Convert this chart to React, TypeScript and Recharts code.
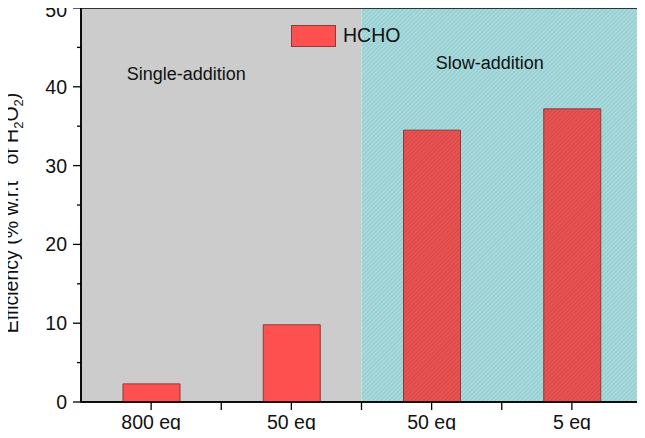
import { BarChart, Bar, XAxis, YAxis, ReferenceArea, Legend, Cell, Label } from "recharts";

const categories = ["800 eq", "50 eq", "50 eq", "5 eq"];
const hchoValues = [2.3, 9.8, 34.5, 37.2];
const hatched = [false, false, true, true];
const yTicks = [0, 5, 10, 15, 20, 25, 30, 35, 40, 45, 50];
const xTicks = [0.5, 1, 1.5, 2, 2.5, 3, 3.5];

const data = categories.map((name, i) => ({
  pos: i + 0.5,
  name,
  hcho: hchoValues[i],
}));

const FONT = "'Liberation Sans', Arial, sans-serif";

const labelFor = (v: number) => {
  const i = v - 0.5;
  return Number.isInteger(i) ? categories[i] : "";
};

// major ticks every 10 with labels, minor ones every 5
const YTick = (props: any) => {
  const { x, y, payload } = props;
  const major = payload.value % 10 === 0;
  // top label sits at the very edge, nudge it down a bit so it is not cut
  const dy = payload.value === 50 ? 9 : 7;
  return (
    <g>
      <line x1={x + 11} x2={x + 11 - (major ? 8 : 4)} y1={y} y2={y} stroke="#000" strokeWidth={1.3} />
      {major && (
        <text x={x - 3} y={y} dy={dy} textAnchor="end" fontSize={19.5} fontFamily={FONT} fill="#111">
          {payload.value}
        </text>
      )}
    </g>
  );
};

const YLabel = () => (
  <text
    x={18}
    y={213}
    transform="rotate(-90, 18, 213)"
    textAnchor="middle"
    fontSize={19.5}
    fontFamily={FONT}
    fill="#111"
    style={{ whiteSpace: "pre" }}
  >
    {"Efficiency (% w.r.t   of H"}
    <tspan fontSize={13} dy={5}>2</tspan>
    <tspan dy={-5}>O</tspan>
    <tspan fontSize={13} dy={5}>2</tspan>
    <tspan dy={-5}>)</tspan>
  </text>
);

const LegendBox = () => (
  <div style={{ display: "flex", alignItems: "center", fontFamily: FONT }}>
    <div style={{ width: 45, height: 22, background: "#ff5050", border: "1px solid #8a3b3b", boxSizing: "border-box" }} />
    <span style={{ marginLeft: 7, fontSize: 19.5, color: "#111" }}>HCHO</span>
  </div>
);

export default function App() {
  return (
    <div style={{ margin: -8, width: 645, height: 438, background: "#fff" }}>
      <BarChart width={645} height={438} data={data} margin={{ top: 8, right: 3, bottom: 0, left: 0 }}>
        <defs>
          <pattern id="cyanHatch" width="3" height="3" patternUnits="userSpaceOnUse" patternTransform="rotate(45)">
            <rect width="3" height="3" fill="#b4d4d5" />
            <line x1="0" y1="0" x2="0" y2="3" stroke="#5ad7df" strokeWidth="1.3" />
          </pattern>
          <pattern id="redHatch" width="3" height="3" patternUnits="userSpaceOnUse" patternTransform="rotate(45)">
            <rect width="3" height="3" fill="#e85252" />
            <line x1="0" y1="0" x2="0" y2="3" stroke="#d04444" strokeWidth="1.3" />
          </pattern>
        </defs>
        <XAxis
          dataKey="pos"
          type="number"
          domain={[0, 4]}
          ticks={xTicks}
          tickFormatter={labelFor}
          tickSize={8}
          tickMargin={5}
          height={36}
          axisLine={{ stroke: "#000", strokeWidth: 1.5 }}
          tickLine={{ stroke: "#000", strokeWidth: 1.3 }}
          tick={{ fontSize: 19.5, fontFamily: FONT, fill: "#111" }}
          interval={0}
        />
        <YAxis
          type="number"
          domain={[0, 50]}
          ticks={yTicks}
          width={81}
          tickSize={8}
          tickMargin={3}
          tickLine={false}
          tick={<YTick />}
          interval={0}
          axisLine={{ stroke: "#000", strokeWidth: 1.5 }}
        >
          <Label content={<YLabel />} />
        </YAxis>
        <ReferenceArea x1={0} x2={2} y1={0} y2={50} fill="#cccccc" fillOpacity={1} stroke="none">
          <Label value="Single-addition" position="insideTop" offset={59} dx={-35} fontSize={18} fontFamily={FONT} fill="#111" />
        </ReferenceArea>
        <ReferenceArea x1={2} x2={4} y1={0} y2={50} fill="url(#cyanHatch)" fillOpacity={1} stroke="none">
          <Label value="Slow-addition" position="insideTop" offset={48} dx={-12} fontSize={18} fontFamily={FONT} fill="#111" />
        </ReferenceArea>
        <ReferenceArea x1={2} x2={2} y1={0} y2={50} stroke="#ffffff" strokeWidth={1.2} />
        <Bar dataKey="hcho" name="HCHO" barSize={57} stroke="#8a3b3b" strokeWidth={1} isAnimationActive={false}>
          {data.map((d, i) => (
            <Cell key={i} fill={hatched[i] ? "url(#redHatch)" : "#ff5050"} />
          ))}
        </Bar>
        <ReferenceArea x1={0} x2={4} y1={0} y2={50} fill="none" stroke="#000" strokeWidth={1.5} />
        <Legend
          layout="horizontal"
          verticalAlign="middle"
          content={<LegendBox />}
          wrapperStyle={{ left: 291, top: 24, width: "auto" }}
        />
      </BarChart>
    </div>
  );
}
